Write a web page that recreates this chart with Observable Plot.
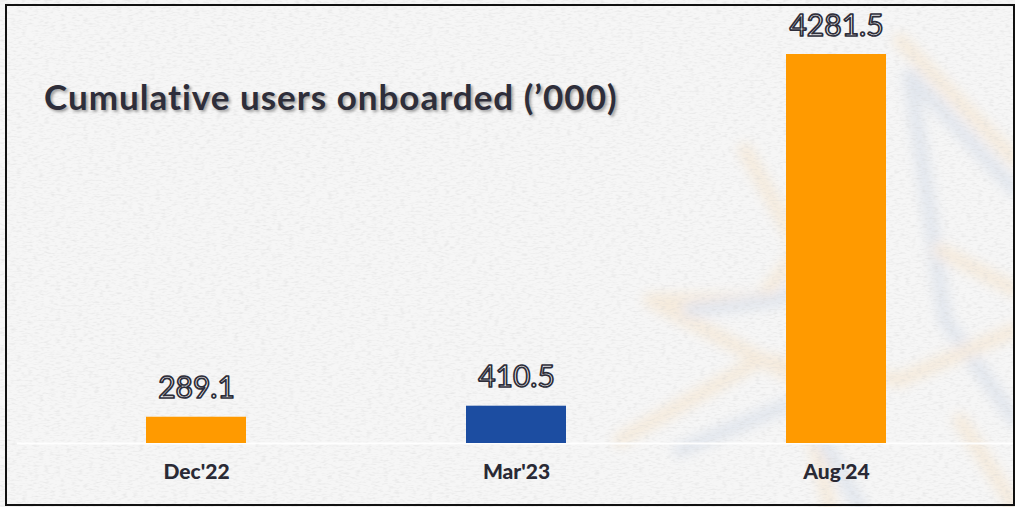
<!DOCTYPE html>
<html>
<head>
<meta charset="utf-8">
<script src="https://cdn.jsdelivr.net/npm/d3@7"></script>
<script src="https://cdn.jsdelivr.net/npm/@observablehq/plot@0.6"></script>
<style>
  html, body { margin: 0; padding: 0; background: #f4f4f4; }
  #wrap { position: relative; width: 1015px; height: 507px; overflow: hidden; background: #f4f4f4; }
  #bg { position: absolute; left: 0; top: 0; }
  #chart { position: absolute; left: 0; top: 0; }
  #title {
    position: absolute; left: 44px; top: 79px;
    font-family: Lato, sans-serif; font-weight: 700; font-size: 35px; line-height: 1;
    letter-spacing: 1px; font-variant-ligatures: none;
    color: #2e2e3a; text-shadow: 2px 2px 3px rgba(0,0,0,0.35); white-space: nowrap;
  }
  #border { position: absolute; left: 5px; top: 4px; width: 1006px; height: 498px; border: 2px solid #111; pointer-events: none; }
</style>
</head>
<body>
<div id="wrap">
  <svg id="bg" width="1015" height="507">
    <filter id="paper" x="0" y="0" width="100%" height="100%">
      <feTurbulence type="fractalNoise" baseFrequency="0.18 0.55" numOctaves="2" seed="4" result="n"/>
      <feColorMatrix in="n" type="matrix" values="0 0 0 0 0.6  0 0 0 0 0.6  0 0 0 0 0.6  0 0 0 -2 1.1"/>
    </filter>
    <filter id="soft"><feGaussianBlur stdDeviation="6"/></filter>
    <rect width="1015" height="507" fill="#f6f6f6"/>
    <g filter="url(#soft)" fill="none" stroke-width="14" stroke-linecap="round" stroke-linejoin="round" opacity="0.16">
      <polyline stroke="#f5b45a" points="900,40 1015,160"/>
      <polyline stroke="#7f9bc8" points="910,75 1015,190"/>
      <polyline stroke="#7f9bc8" points="910,75 945,320 1015,420"/>
      <polyline stroke="#f5b45a" points="745,150 800,250 760,300 650,300 800,380 830,507"/>
      <polyline stroke="#7f9bc8" points="690,310 780,300 870,230"/>
      <polyline stroke="#f5b45a" points="620,440 760,360 900,380 1015,330"/>
      <polyline stroke="#7f9bc8" points="680,450 800,400 860,507"/>
      <polyline stroke="#f5b45a" points="940,250 1015,290"/>
      <polyline stroke="#f5b45a" points="960,420 1015,507"/>
    </g>
    <rect width="1015" height="507" filter="url(#paper)" opacity="0.38"/>
  </svg>
  <div id="chart"></div>
  <div id="title">Cumulative users onboarded (’000)</div>
  <div id="border"></div>
</div>
<script>
const categories = ["Dec'22", "Mar'23", "Aug'24"];
const values = [289.1, 410.5, 4281.5];
const colors = ["#FF9A00", "#1C4DA1", "#FF9A00"];

const data = categories.map((c, i) => ({category: c, value: values[i], color: colors[i]}));

const plot = Plot.plot({
  width: 1015,
  height: 507,
  marginLeft: 17,
  marginRight: 1,
  marginTop: 54,
  marginBottom: 64,
  style: {background: "transparent", fontFamily: "Lato, sans-serif", overflow: "visible"},
  x: {domain: categories, padding: 0.688, paddingOuter: 0.4, label: null},
  y: {domain: [0, 4281.5], axis: null},
  marks: [
    Plot.ruleY([0], {stroke: "white", strokeWidth: 2, strokeOpacity: 0.9}),
    Plot.barY(data, {x: "category", y: "value", fill: "color"}),
    Plot.text(data, {
      x: "category", y: "value", text: d => d.value.toFixed(1),
      dy: -19, lineAnchor: "bottom", fontSize: 30, fontFamily: "Lato, sans-serif",
      fill: "#f7f7f7", stroke: "#2e2e3a", strokeWidth: 1.7, paintOrder: "normal"
    }),
    Plot.axisX({tickSize: 0, tickPadding: 21, fontSize: 21, fontWeight: 900, fill: "#2a2a35", label: null})
  ]
});
document.getElementById("chart").appendChild(plot);
</script>
</body>
</html>
